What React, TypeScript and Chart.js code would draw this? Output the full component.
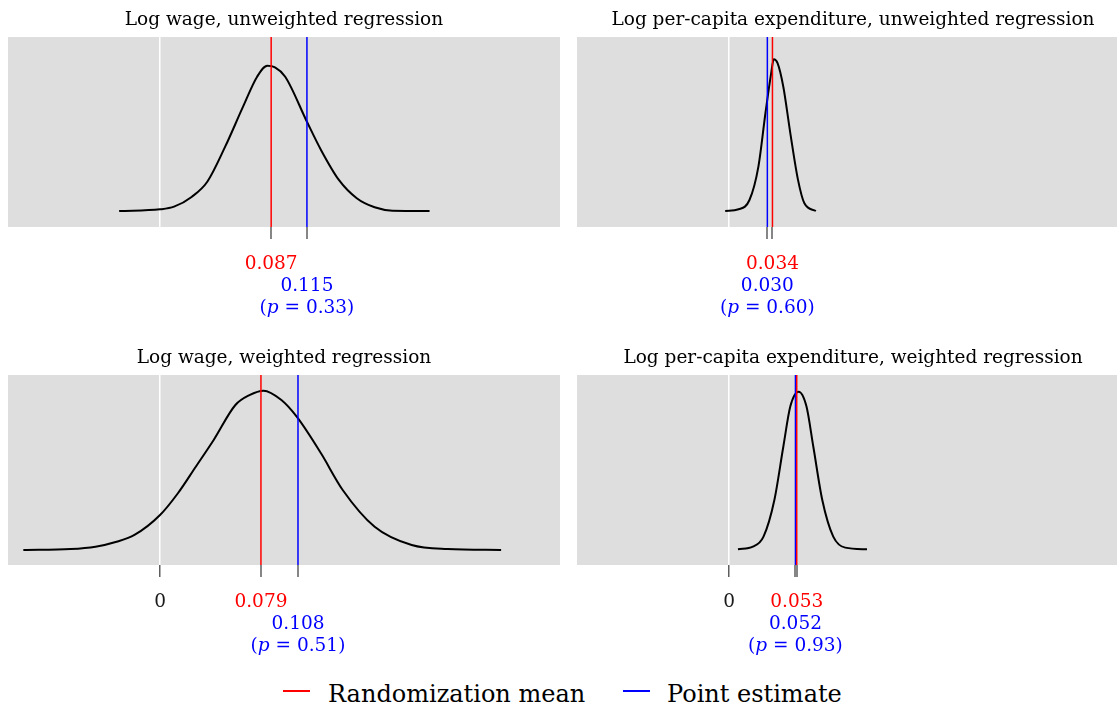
import React, { useEffect, useRef } from "react";
import { Chart, registerables } from "chart.js";

Chart.register(...registerables);

const FONT = "'DejaVu Serif', 'Liberation Serif', serif";

// ---- Data ----
const panelTitles = [
  "Log wage, unweighted regression",
  "Log per-capita expenditure, unweighted regression",
  "Log wage, weighted regression",
  "Log per-capita expenditure, weighted regression",
];
const randomizationMeans = [0.087, 0.034, 0.079, 0.053];
const pointEstimates = [0.115, 0.03, 0.108, 0.052];
const pValues = ["0.33", "0.60", "0.51", "0.93"];
const zeroTickLabel = "0";

// density of randomization distribution
const wageUnweightedX = [-0.032, 0.0, 0.011, 0.025, 0.037, 0.051, 0.065, 0.076, 0.084, 0.09, 0.098, 0.115, 0.126, 0.14, 0.154, 0.168, 0.182, 0.211];
const wageUnweightedY = [0.0, 0.16, 0.41, 1.36, 2.78, 6.11, 9.91, 12.76, 13.8, 13.65, 12.76, 8.48, 5.8, 2.95, 1.21, 0.35, 0.03, 0.0];

const pceUnweightedX = [-0.003, 0.0075, 0.016, 0.023, 0.0285, 0.033, 0.035, 0.038, 0.0425, 0.048, 0.054, 0.059, 0.068];
const pceUnweightedY = [0, 0.48, 3.07, 12.4, 27.3, 38.5, 42.4, 41.3, 34.7, 21.7, 8.7, 2.15, 0];

const wageWeightedX = [-0.107, -0.07, -0.0505, -0.034, -0.02, 0.0, 0.014, 0.028, 0.042, 0.059, 0.07, 0.081, 0.095, 0.107, 0.126, 0.143, 0.168, 0.197, 0.225, 0.267];
const wageWeightedY = [0, 0.05, 0.18, 0.45, 0.82, 1.91, 3.1, 4.55, 6.01, 7.92, 8.46, 8.7, 8.19, 7.28, 5.28, 3.28, 1.27, 0.27, 0.05, 0];

const pceWeightedX = [0.007, 0.0187, 0.027, 0.0355, 0.0425, 0.048, 0.0545, 0.0606, 0.066, 0.073, 0.0816, 0.091, 0.108];
const pceWeightedY = [0, 0.53, 2.51, 9.76, 20.3, 28.3, 31.2, 28.3, 20.3, 9.76, 2.51, 0.34, 0];

const densityXs = [wageUnweightedX, pceUnweightedX, wageWeightedX, pceWeightedX];
const densityYs = [wageUnweightedY, pceUnweightedY, wageWeightedY, pceWeightedY];

// ---- Layout / style ----
const X_MIN = -0.119;
const X_MAX = 0.3131;
const yRanges: [number, number][] = [
  [-1.52, 16.53],
  [-4.47, 48.6],
  [-0.82, 9.56],
  [-3.1, 34.5],
];
const showZeroTick = [false, false, true, true];
const panelPos = [
  { left: 8, top: 0 },
  { left: 577, top: 0 },
  { left: 8, top: 338 },
  { left: 577, top: 338 },
];
const PANEL_W = 552;
const PANEL_H = 330;
const RED = "#FF0000";
const BLUE = "#0000FF";
const GRAY_BG = "#DEDEDE";
const TICK_GRAY = "#5e5e5e";
const LABEL_SIZE = 18.5;

const decorPlugin = {
  id: "panelDecor",
  beforeDraw(chart: any) {
    const { ctx, chartArea: a } = chart;
    ctx.save();
    ctx.fillStyle = GRAY_BG;
    ctx.fillRect(a.left, a.top, a.right - a.left, a.bottom - a.top);
    ctx.restore();
  },
  afterDraw(chart: any, _args: any, opts: any) {
    const { ctx } = chart;
    const xs = chart.scales.x;
    const base = xs.bottom;
    const lineY = (i: number) => base + 30 + 22 * i;
    ctx.save();
    ctx.textBaseline = "alphabetic";
    ctx.textAlign = "left";
    const drawParts = (parts: { t: string; italic: boolean }[], cx: number, y: number, color: string) => {
      let total = 0;
      const widths = parts.map((p) => {
        ctx.font = `${p.italic ? "italic " : ""}${LABEL_SIZE}px ${FONT}`;
        const w = ctx.measureText(p.t).width;
        total += w;
        return w;
      });
      let x = cx - total / 2;
      ctx.fillStyle = color;
      parts.forEach((p, i) => {
        ctx.font = `${p.italic ? "italic " : ""}${LABEL_SIZE}px ${FONT}`;
        ctx.fillText(p.t, x, y);
        x += widths[i];
      });
    };
    if (opts.showZero) {
      drawParts([{ t: zeroTickLabel, italic: false }], xs.getPixelForValue(0), lineY(0), "#1a1a1a");
    }
    const mx = xs.getPixelForValue(opts.mean);
    drawParts([{ t: opts.mean.toFixed(3), italic: false }], mx, lineY(0), RED);
    const ex = xs.getPixelForValue(opts.estimate);
    drawParts([{ t: opts.estimate.toFixed(3), italic: false }], ex, lineY(1), BLUE);
    drawParts(
      [
        { t: "(", italic: false },
        { t: "p", italic: true },
        { t: " = " + opts.p + ")", italic: false },
      ],
      ex,
      lineY(2),
      BLUE
    );
    ctx.restore();
  },
};

function Panel({ idx }: { idx: number }) {
  const ref = useRef<HTMLCanvasElement | null>(null);
  useEffect(() => {
    if (!ref.current) return;
    const [yMin, yMax] = yRanges[idx];
    const mean = randomizationMeans[idx];
    const est = pointEstimates[idx];
    const showZero = showZeroTick[idx];
    const tickValues = [0, mean, est];
    const chart = new Chart(ref.current, {
      type: "line",
      data: {
        datasets: [
          {
            label: "Randomization mean",
            data: [
              { x: mean, y: yMin },
              { x: mean, y: yMax },
            ],
            borderColor: RED,
            borderWidth: 1.5,
            pointRadius: 0,
          },
          {
            label: "Point estimate",
            data: [
              { x: est, y: yMin },
              { x: est, y: yMax },
            ],
            borderColor: BLUE,
            borderWidth: 1.5,
            pointRadius: 0,
          },
          {
            label: "Density",
            data: densityXs[idx].map((x, i) => ({ x, y: densityYs[idx][i] })),
            borderColor: "#000000",
            borderWidth: 2,
            pointRadius: 0,
            cubicInterpolationMode: "monotone",
          },
        ],
      },
      options: {
        animation: false,
        responsive: false,
        events: [],
        layout: { padding: { left: 0, right: 0, top: 0, bottom: PANEL_H - 37 - 190 - 12 } },
        plugins: {
          legend: { display: false },
          tooltip: { enabled: false },
          title: {
            display: true,
            text: panelTitles[idx],
            color: "#000000",
            font: { family: FONT, size: 18.5, weight: "normal", lineHeight: 1.2 },
            padding: { top: 9, bottom: 5.8 },
          },
          panelDecor: { showZero, mean, estimate: est, p: pValues[idx] },
        } as any,
        scales: {
          x: {
            type: "linear",
            min: X_MIN,
            max: X_MAX,
            afterBuildTicks: (axis: any) => {
              axis.ticks = tickValues.map((v) => ({ value: v }));
            },
            ticks: { display: false },
            border: { display: false },
            grid: {
              drawOnChartArea: true,
              drawTicks: true,
              tickLength: 12,
              lineWidth: (c: any) => (c.tick && c.tick.value === 0 ? 1.5 : 0),
              color: (c: any) => (c.tick && c.tick.value === 0 ? "#FFFFFF" : "rgba(0,0,0,0)"),
              tickWidth: 1.5,
              tickColor: (c: any) =>
                c.tick && c.tick.value === 0 && !showZero ? "rgba(0,0,0,0)" : TICK_GRAY,
            },
          },
          y: { display: false, min: yMin, max: yMax },
        },
      } as any,
      plugins: [decorPlugin],
    });
    return () => chart.destroy();
  }, [idx]);
  const pos = panelPos[idx];
  return (
    <canvas
      ref={ref}
      width={PANEL_W}
      height={PANEL_H}
      style={{ position: "absolute", left: pos.left, top: pos.top, width: PANEL_W, height: PANEL_H }}
    />
  );
}

export default function App() {
  const textStyle: React.CSSProperties = {
    position: "absolute",
    top: 679,
    fontFamily: FONT,
    fontSize: 24,
    lineHeight: "30px",
    color: "#000",
    whiteSpace: "nowrap",
  };
  return (
    <div
      style={{
        position: "fixed",
        left: 0,
        top: 0,
        width: 1117,
        height: 707,
        overflow: "hidden",
        background: "#FFFFFF",
      }}
    >
      {[0, 1, 2, 3].map((i) => (
        <Panel key={i} idx={i} />
      ))}
      <div style={{ position: "absolute", left: 283, top: 690, width: 27, height: 2, background: RED }} />
      <span style={{ ...textStyle, left: 328 }}>Randomization mean</span>
      <div style={{ position: "absolute", left: 623, top: 690, width: 27, height: 2, background: BLUE }} />
      <span style={{ ...textStyle, left: 667 }}>Point estimate</span>
    </div>
  );
}
